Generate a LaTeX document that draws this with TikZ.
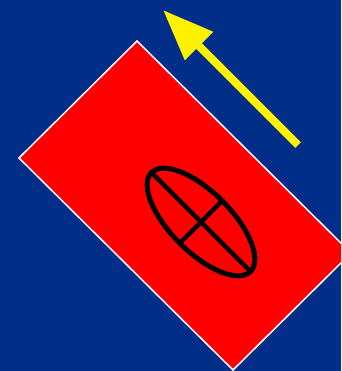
\documentclass[tikz,border=0pt]{standalone}
\usepackage{tikz}
\usetikzlibrary{arrows.meta}
\definecolor{navy}{RGB}{0,46,136}
\tikzset{
  >={Triangle[length=51pt,width=38pt]},
  plate/.style={draw=white, line width=1.5pt, fill=red},
  oval/.style={draw=black, line width=5pt},
  axis/.style={draw=black, line width=4.5pt},
  motion/.style={draw=yellow, fill=yellow, line width=8pt},
}

\begin{document}
\begin{tikzpicture}[x=1pt, y=-1pt]
  \useasboundingbox (0,0) rectangle (341,371);
  \fill[navy] (0,0) rectangle (341,371);
  \clip (0,0) rectangle (341,371);
  % tilted plate
  \coordinate (top) at (137,41);
  \coordinate (left) at (19,158);
  \coordinate (bottom) at (233,370);
  \coordinate (right) at (351,253);
  \draw[plate] (top) -- (left) -- (bottom) -- (right) -- cycle;
  % ellipse with its axes
  \coordinate (c) at (201,222);
  \coordinate (a1) at (151.5,172.5);
  \coordinate (a2) at (250.5,271.5);
  \coordinate (b1) at (222.2,200.8);
  \coordinate (b2) at (179.8,243.2);
  \draw[axis] (a1) -- (a2);
  \draw[axis] (b1) -- (b2);
  \draw[oval] (c) ellipse [x radius=70pt, y radius=30pt, rotate=-45];
  % direction of motion
  \coordinate (tail) at (298,145);
  \coordinate (tip) at (163,10);
  \draw[motion, ->] (tail) -- (tip);
\end{tikzpicture}
\end{document}
